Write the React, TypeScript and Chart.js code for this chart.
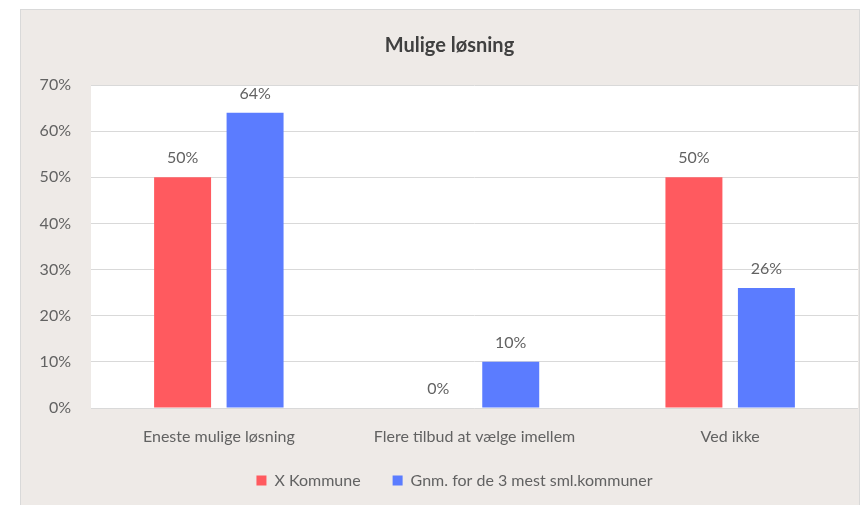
import React, { useEffect, useRef } from "react";
import { Chart, registerables } from "chart.js";

Chart.register(...registerables);

const title = "Mulige løsning";
const categories = ["Eneste mulige løsning", "Flere tilbud at vælge imellem", "Ved ikke"];
const seriesNames = ["X Kommune", "Gnm. for de 3 mest sml.kommuner"];
const xKommune = [50, 0, 50];
const gnmKommuner = [64, 10, 26];
const yMax = 70;
const yStep = 10;

const FONT = "Lato, 'Open Sans', sans-serif";
const TEXT = "#626262";

const plotBg = {
  id: "plotBg",
  afterLayout(chart: any) {
    if (chart.titleBlock) chart.titleBlock.left += 20;
    if (chart.legend) chart.legend.left += 30;
    if (chart.scales.x) chart.scales.x.bottom += 20;
  },
  beforeDraw(chart: any) {
    const { ctx, chartArea } = chart;
    ctx.save();
    ctx.fillStyle = "#FFFFFF";
    ctx.fillRect(chartArea.left, chartArea.top, chartArea.right - chartArea.left, chartArea.bottom - chartArea.top);
    ctx.restore();
  },
};

const valueLabels = {
  id: "valueLabels",
  afterDatasetsDraw(chart: any) {
    const { ctx } = chart;
    ctx.save();
    ctx.font = `16px ${FONT}`;
    ctx.fillStyle = TEXT;
    ctx.textAlign = "center";
    ctx.textBaseline = "middle";
    chart.data.datasets.forEach((ds: any, i: number) => {
      const meta = chart.getDatasetMeta(i);
      meta.data.forEach((el: any, j: number) => {
        ctx.fillText(ds.data[j] + "%", el.x, el.y - 19);
      });
    });
    ctx.restore();
  },
};

export default function App() {
  const ref = useRef<HTMLCanvasElement>(null);
  useEffect(() => {
    if (!ref.current) return;
    const chart = new Chart(ref.current, {
      type: "bar",
      data: {
        labels: categories,
        datasets: [
          { label: seriesNames[0], data: xKommune, backgroundColor: "#FF5A5F", categoryPercentage: 0.567, barPercentage: 0.786 },
          { label: seriesNames[1], data: gnmKommuner, backgroundColor: "#5B7CFF", categoryPercentage: 0.567, barPercentage: 0.786 },
        ],
      },
      options: {
        responsive: false,
        animation: false,
        devicePixelRatio: 1,
        layout: { padding: { left: 0, right: 1, top: 0, bottom: 6.5 } },
        plugins: {
          title: {
            display: true,
            text: title,
            color: "#404040",
            font: { family: FONT, size: 20, weight: "bold" },
            padding: { top: 24, bottom: 27 },
          },
          legend: {
            position: "bottom",
            labels: {
              color: TEXT,
              font: { family: FONT, size: 16 },
              boxWidth: 10,
              boxHeight: 10,
              padding: 32,
            },
          },
          tooltip: { enabled: false },
        },
        scales: {
          x: {
            grid: { display: false, drawTicks: false },
            border: { display: false },
            ticks: { color: TEXT, font: { family: FONT, size: 16 }, padding: 19, maxRotation: 0 },
            afterFit(scale: any) {
              scale.height = 32.5;
            },
          },
          y: {
            min: 0,
            max: yMax,
            ticks: {
              stepSize: yStep,
              color: TEXT,
              font: { family: FONT, size: 16 },
              padding: 20,
              callback: (v: any) => v + "%",
            },
            grid: { color: "#D9D9D9", lineWidth: 1, drawTicks: false },
            border: { display: false },
            afterFit(scale: any) {
              scale.width = 70;
            },
          },
        },
      },
      plugins: [plotBg, valueLabels],
    });
    return () => chart.destroy();
  }, []);

  return (
    <div style={{ position: "absolute", left: 0, top: 0, width: 863, height: 505, overflow: "hidden", background: "#FFFFFF" }}>
      <div
        style={{
          position: "absolute",
          left: 20,
          top: 9,
          width: 838,
          height: 500,
          background: "#EEEAE7",
          borderLeft: "1px solid #D9D9D9",
          borderTop: "1px solid #D9D9D9",
          borderRight: "1px solid #D9D9D9",
        }}
      >
        <canvas ref={ref} width={838} height={495} style={{ display: "block" }} />
      </div>
    </div>
  );
}
